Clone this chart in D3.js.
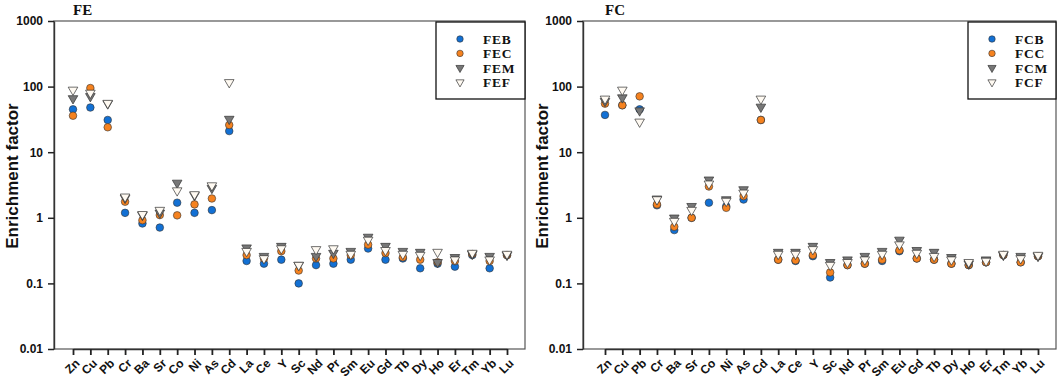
<!DOCTYPE html>
<html>
<head>
<meta charset="utf-8">
<script src="https://cdn.jsdelivr.net/npm/d3@7"></script>
<style>
  body { margin: 0; background: #fff; }
  svg { display: block; }
</style>
</head>
<body>
<div id="chart"></div>
<script>
// element categories on the x axis
const elements = ["Zn","Cu","Pb","Cr","Ba","Sr","Co","Ni","As","Cd","La","Ce","Y","Sc","Nd","Pr","Sm","Eu","Gd","Tb","Dy","Ho","Er","Tm","Yb","Lu"];

// FE panel
const feB = [45, 48, 31, 1.19, 0.82, 0.71, 1.7, 1.19, 1.31, 21, 0.22, 0.20, 0.23, 0.10, 0.19, 0.20, 0.23, 0.34, 0.23, 0.24, 0.17, 0.20, 0.18, 0.27, 0.17, 0.27];
const feC = [36, 95, 24, 1.76, 0.92, 1.1, 1.09, 1.6, 1.97, 26, 0.27, 0.24, 0.31, 0.157, 0.24, 0.24, 0.27, 0.39, 0.29, 0.25, 0.23, 0.21, 0.22, 0.28, 0.22, 0.27];
const feM = [66, 71, 55, 2.0, 1.1, 1.19, 3.4, 2.2, 2.83, 32, 0.35, 0.26, 0.37, 0.19, 0.26, 0.29, 0.31, 0.51, 0.37, 0.31, 0.30, 0.21, 0.25, 0.28, 0.26, 0.27];
const feF = [89, 80, 56, 2.09, 1.13, 1.31, 2.6, 2.27, 3.1, 116, 0.31, 0.24, 0.34, 0.19, 0.33, 0.34, 0.28, 0.46, 0.32, 0.28, 0.27, 0.30, 0.23, 0.29, 0.23, 0.28];

// FC panel
const fcB = [37, 52, 45, 1.55, 0.65, 1.0, 1.7, 1.5, 1.9, 31, 0.23, 0.22, 0.26, 0.123, 0.19, 0.20, 0.22, 0.31, 0.24, 0.23, 0.20, 0.19, 0.21, 0.27, 0.21, 0.26];
const fcC = [55, 52, 71, 1.6, 0.73, 1.0, 3.0, 1.42, 2.14, 31, 0.23, 0.225, 0.27, 0.147, 0.19, 0.20, 0.23, 0.32, 0.24, 0.23, 0.20, 0.19, 0.21, 0.27, 0.21, 0.26];
const fcM = [60, 68, 43, 1.95, 1.0, 1.5, 3.8, 1.9, 2.7, 49, 0.30, 0.30, 0.37, 0.21, 0.23, 0.26, 0.31, 0.46, 0.32, 0.30, 0.25, 0.20, 0.23, 0.27, 0.26, 0.26];
const fcF = [65, 89, 29, 1.9, 0.89, 1.31, 3.3, 1.8, 2.4, 65, 0.28, 0.28, 0.33, 0.19, 0.21, 0.23, 0.28, 0.39, 0.29, 0.26, 0.23, 0.21, 0.22, 0.28, 0.24, 0.27];

const yTicks = [0.01, 0.1, 1, 10, 100, 1000];
const yTickLabels = ["0.01", "0.1", "1", "10", "100", "1000"];

const markers = [
  {kind: "circle", fill: "#1270d4"},
  {kind: "circle", fill: "#f5821f"},
  {kind: "triangle", fill: "#777777"},
  {kind: "triangle", fill: "#fffaf2"}
];

const panels = [
  {title: "FE", names: ["FEB","FEC","FEM","FEF"], series: [feB, feC, feM, feF],
   x0: 54, x1: 525, first: 73, last: 507, labelX: 12, legendX: 436},
  {title: "FC", names: ["FCB","FCC","FCM","FCF"], series: [fcB, fcC, fcM, fcF],
   x0: 583, x1: 1056, first: 605, last: 1038, labelX: 542, legendX: 968}
];

const plotTop = 21, plotBottom = 349;

const svg = d3.select("#chart").append("svg")
  .attr("width", 1059)
  .attr("height", 382);

const triangle = d3.symbol().type(d3.symbolTriangle);

function drawMarker(g, m, cx, cy, scale) {
  if (m.kind === "circle") {
    g.append("circle")
      .attr("cx", cx).attr("cy", cy).attr("r", 3.8 * scale)
      .style("fill", m.fill).style("stroke", "#333").style("stroke-width", 0.6);
  } else {
    g.append("path")
      .attr("d", triangle.size(40 * scale * scale)())
      .attr("transform", "translate(" + cx + "," + cy + ") rotate(180)")
      .style("fill", m.fill).style("stroke", "#333").style("stroke-width", 0.7);
  }
}

panels.forEach(p => {
  let xScale = d3.scalePoint().domain(elements).range([p.first, p.last]);
  let yScale = d3.scaleLog().domain([0.01, 1000]).range([plotBottom, plotTop]);

  let g = svg.append("g");

  // frame
  g.append("rect")
    .attr("x", p.x0).attr("y", plotTop)
    .attr("width", p.x1 - p.x0).attr("height", plotBottom - plotTop)
    .style("fill", "none").style("stroke", "#555").style("stroke-width", 1.2);

  // y axis
  let yAxis = g.append("g")
    .attr("transform", "translate(" + p.x0 + ",0)")
    .call(d3.axisLeft(yScale).tickValues(yTicks)
      .tickFormat((d, i) => yTickLabels[i]).tickSize(6).tickPadding(5).tickSizeOuter(0));
  yAxis.select(".domain").style("stroke", "#333").style("stroke-width", 1.4);
  yAxis.selectAll(".tick line").style("stroke", "#222").style("stroke-width", 1.5);
  yAxis.selectAll("text")
    .style("font-family", "Liberation Sans, Arial, sans-serif")
    .style("font-weight", "bold").style("font-size", "12px").style("fill", "#111");

  // x axis
  let xAxis = g.append("g")
    .attr("transform", "translate(0," + plotBottom + ")")
    .call(d3.axisBottom(xScale).tickSize(6).tickSizeOuter(0));
  xAxis.select(".domain").style("stroke", "#333").style("stroke-width", 1.4);
  xAxis.selectAll(".tick line").style("stroke", "#222").style("stroke-width", 1.8);
  xAxis.selectAll("text")
    .style("font-family", "Liberation Sans, Arial, sans-serif")
    .style("font-weight", "bold").style("font-size", "12px").style("fill", "#111")
    .style("text-anchor", "end")
    .attr("x", 0).attr("y", 0).attr("dy", "0.35em")
    .attr("transform", "translate(4,12) rotate(-45)");

  // y label
  g.append("text")
    .attr("transform", "translate(" + p.labelX + "," + 176 + ") rotate(-90)")
    .attr("text-anchor", "middle")
    .attr("dy", "0.35em")
    .style("font-family", "Liberation Sans, Arial, sans-serif")
    .style("font-weight", "bold").style("font-size", "17px").style("fill", "#111")
    .text("Enrichment factor");

  // title
  g.append("text")
    .attr("x", p.first).attr("y", 15)
    .style("font-family", "Liberation Serif, Times New Roman, serif")
    .style("font-weight", "bold").style("font-size", "15px").style("fill", "#111")
    .text(p.title);

  // points, series in legend order
  p.series.forEach((vals, si) => {
    let sg = g.append("g");
    vals.forEach((v, i) => {
      drawMarker(sg, markers[si], xScale(elements[i]), yScale(v), 1);
    });
  });

  // legend
  let lg = g.append("g");
  lg.append("rect")
    .attr("x", p.legendX).attr("y", 22)
    .attr("width", p.x1 - p.legendX).attr("height", 77)
    .style("fill", "#fff").style("stroke", "#111").style("stroke-width", 1.3);
  p.names.forEach((n, i) => {
    let ly = 39 + i * 14.4;
    drawMarker(lg, markers[i], p.legendX + 24, ly, 0.85);
    lg.append("text")
      .attr("x", p.legendX + 47).attr("y", ly)
      .attr("dy", "0.35em")
      .style("font-family", "Liberation Serif, Times New Roman, serif")
      .style("font-weight", "bold").style("font-size", "13.5px").style("fill", "#111")
      .style("letter-spacing", "0.8px")
      .text(n);
  });
});
</script>
</body>
</html>
